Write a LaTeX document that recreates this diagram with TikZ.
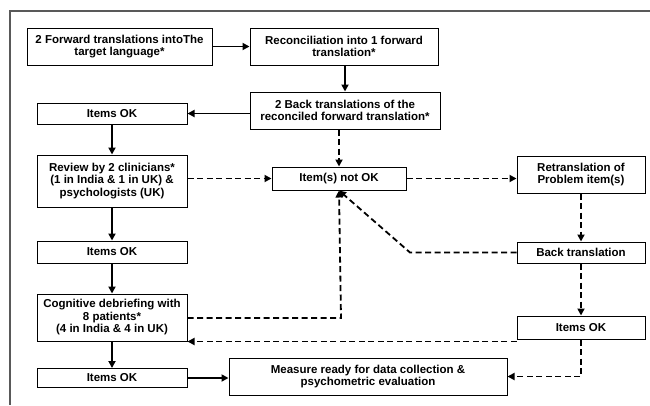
\documentclass[tikz,border=0pt]{standalone}
\usepackage{fontspec}
\setmainfont{Liberation Sans}
\usetikzlibrary{arrows.meta}
\tikzset{
  stagebox/.style={draw, line width=1pt, align=center, inner sep=1pt,
    font=\fontsize{11.5}{12.5}\selectfont\bfseries},
  flow/.style={line width=1.8pt, -{Triangle[length=7pt,width=7pt]}},
  recheck/.style={flow, dash pattern=on 6pt off 3.5pt},
}
\begin{document}
\begin{tikzpicture}[x=1pt, y=-1pt]
  \useasboundingbox (0,0) rectangle (650,405);
  \draw[gray!70!black, line width=2pt] (650,11) -- (10,11) -- (10,405);
  \node[stagebox, minimum width=185, minimum height=37] (fwd) at (119.5,46.5) {2 Forward translations intoThe\\target language*};
  \node[stagebox, minimum width=188, minimum height=37] (recon) at (344,46.5) {Reconciliation into 1 forward\\translation*};
  \node[stagebox, minimum width=190, minimum height=37] (back) at (345,110.5) {2 Back translations of the\\reconciled forward translation*};
  \node[stagebox, minimum width=150, minimum height=21] (okA) at (112,113.5) {Items OK};
  \node[stagebox, minimum width=150, minimum height=52] (review) at (112,181) {Review by 2 clinicians*\\(1 in India \& 1 in UK) \&\\psychologists (UK)};
  \node[stagebox, minimum width=134, minimum height=23] (notok) at (339,178.5) {Item(s) not OK};
  \node[stagebox, minimum width=128, minimum height=37] (retrans) at (581,174.5) {Retranslation of\\Problem item(s)};
  \node[stagebox, minimum width=128, minimum height=21] (backtr) at (581,252.5) {Back translation};
  \node[stagebox, minimum width=150, minimum height=22] (okB) at (112,252) {Items OK};
  \node[stagebox, minimum width=150, minimum height=47] (cog) at (112,317.5) {Cognitive debriefing with\\8 patients*\\(4 in India \& 4 in UK)};
  \node[stagebox, minimum width=128, minimum height=23] (okC) at (581,327.5) {Items OK};
  \node[stagebox, minimum width=150, minimum height=19] (okD) at (112,378) {Items OK};
  \node[stagebox, minimum width=278, minimum height=37] (ready) at (368,376.5) {Measure ready for data collection \&\\psychometric evaluation};
  \coordinate (bend) at (410,252.5);
  \coordinate (loop) at (341,318);
  \coordinate (back2) at ([yshift=-2pt]okC.south west);
  \draw[flow] (fwd.east) -- (recon.west);
  \draw[flow] (recon.south -| back.north) -- (back.north);
  \draw[flow] (back.west |- okA.east) -- (okA.east);
  \draw[flow] (okA.south) -- (review.north);
  \draw[flow] (review.south) -- (okB.north);
  \draw[flow] (okB.south) -- (cog.north);
  \draw[flow] (cog.south) -- (okD.north);
  \draw[flow] (okD.east) -- (ready.west |- okD.east);
  \draw[recheck] (back.south -| notok.north) -- (notok.north);
  \draw[recheck] (review.east |- notok.west) -- (notok.west);
  \draw[recheck] (notok.east) -- (retrans.west |- notok.east);
  \draw[recheck] (retrans.south) -- (backtr.north);
  \draw[recheck] (backtr.west) -- (bend) -- (notok.south);
  \draw[recheck] (cog.east |- loop) -- (loop) -- (notok.south);
  \draw[recheck] (backtr.south) -- (okC.north);
  \draw[recheck] (back2) -- (cog.east |- back2);
  \draw[recheck] (okC.south) |- (ready.east);
\end{tikzpicture}
\end{document}
